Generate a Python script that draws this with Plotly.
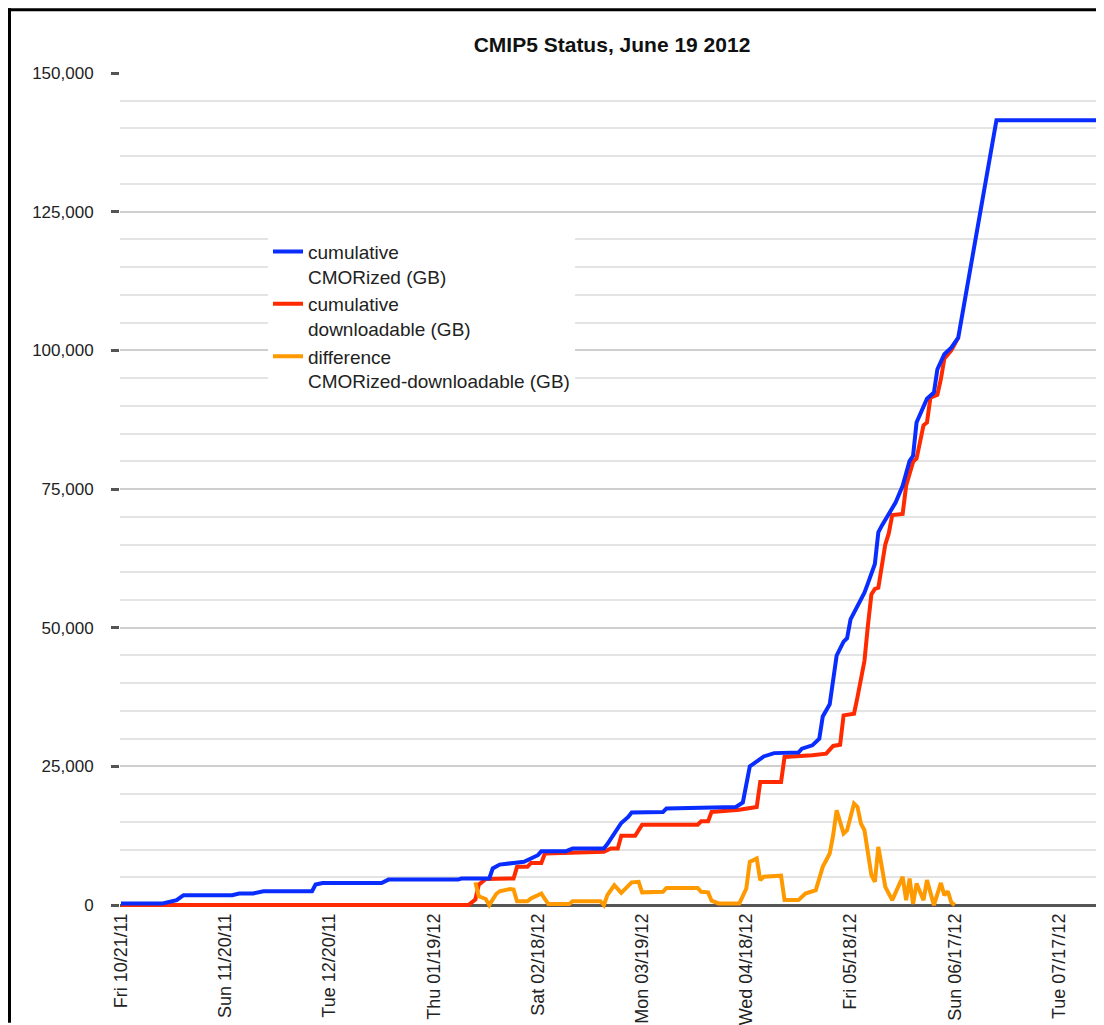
import plotly.graph_objects as go

# ---------------- data ----------------
cmorized_dates = [
    "2011-10-21", "2011-11-02", "2011-11-06", "2011-11-08", "2011-11-22", "2011-11-24",
    "2011-11-28", "2011-12-01", "2011-12-15", "2011-12-16", "2011-12-18", "2012-01-04",
    "2012-01-06", "2012-01-26", "2012-01-27", "2012-02-04", "2012-02-05", "2012-02-07",
    "2012-02-11", "2012-02-14", "2012-02-16", "2012-02-18", "2012-02-19", "2012-02-26",
    "2012-02-28", "2012-03-08", "2012-03-09", "2012-03-11", "2012-03-13", "2012-03-15",
    "2012-03-16", "2012-03-25", "2012-03-26", "2012-04-15", "2012-04-17", "2012-04-19",
    "2012-04-21", "2012-04-23", "2012-04-26", "2012-05-03", "2012-05-04", "2012-05-07",
    "2012-05-09", "2012-05-10", "2012-05-12", "2012-05-13", "2012-05-14", "2012-05-16",
    "2012-05-17", "2012-05-18", "2012-05-20", "2012-05-22", "2012-05-23", "2012-05-25",
    "2012-05-26", "2012-05-27", "2012-05-31", "2012-06-02", "2012-06-04", "2012-06-05",
    "2012-06-06", "2012-06-09", "2012-06-11", "2012-06-12", "2012-06-14", "2012-06-16",
    "2012-06-18", "2012-06-29", "2012-07-29",
]
cmorized_gb = [
    300, 300, 900, 1800, 1800, 2100,
    2100, 2500, 2500, 3700, 4000, 4000,
    4600, 4600, 4800, 4800, 6600, 7300,
    7600, 7800, 8400, 9000, 9700, 9700,
    10200, 10200, 11000, 13000, 14800, 15900,
    16700, 16800, 17400, 17700, 18500, 25000,
    25800, 26800, 27400, 27500, 28200, 28800,
    30000, 34000, 36200, 41000, 45000, 47500,
    48100, 51500, 53800, 56300, 58000, 61500,
    67200, 68400, 72600, 75600, 80100, 81000,
    87000, 91300, 92400, 96600, 99300, 100500,
    102300, 141500, 141500,
]

downloadable_dates = [
    "2011-10-21", "2012-01-29", "2012-01-31", "2012-02-01", "2012-02-03", "2012-02-11",
    "2012-02-12", "2012-02-15", "2012-02-16", "2012-02-19", "2012-02-20", "2012-03-08",
    "2012-03-10", "2012-03-12", "2012-03-13", "2012-03-17", "2012-03-19", "2012-04-04",
    "2012-04-05", "2012-04-07", "2012-04-08", "2012-04-16", "2012-04-21", "2012-04-22",
    "2012-04-28", "2012-04-29", "2012-05-07", "2012-05-11", "2012-05-13", "2012-05-15",
    "2012-05-16", "2012-05-19", "2012-05-20", "2012-05-22", "2012-05-23", "2012-05-24",
    "2012-05-25", "2012-05-26", "2012-05-28", "2012-05-29", "2012-05-30", "2012-06-02",
    "2012-06-03", "2012-06-05", "2012-06-06", "2012-06-08", "2012-06-09", "2012-06-10",
    "2012-06-12", "2012-06-13", "2012-06-14", "2012-06-16", "2012-06-18",
]
downloadable_gb = [
    0, 0, 1000, 3700, 4700, 4800,
    6900, 6900, 7600, 7600, 9300, 9600,
    10200, 10200, 12500, 12500, 14500, 14500,
    15100, 15100, 16800, 17200, 17700, 22200,
    22200, 26700, 27000, 27300, 28700, 28900,
    34200, 34500, 37500, 44000, 50400, 56000,
    57000, 57200, 65000, 67000, 70300, 70500,
    75600, 79900, 80500, 86500, 87000, 91500,
    92000, 94800, 98500, 100000, 102300,
]

difference_dates = [
    "2012-01-31", "2012-02-01", "2012-02-03", "2012-02-04", "2012-02-06", "2012-02-07",
    "2012-02-10", "2012-02-11", "2012-02-12", "2012-02-15", "2012-02-16", "2012-02-19",
    "2012-02-20", "2012-02-21", "2012-02-27", "2012-02-28", "2012-03-07", "2012-03-08",
    "2012-03-09", "2012-03-11", "2012-03-13", "2012-03-15", "2012-03-16", "2012-03-18",
    "2012-03-19", "2012-03-25", "2012-03-26", "2012-04-04", "2012-04-05", "2012-04-07",
    "2012-04-08", "2012-04-10", "2012-04-16", "2012-04-18", "2012-04-19", "2012-04-21",
    "2012-04-22", "2012-04-23", "2012-04-28", "2012-04-29", "2012-05-03", "2012-05-05",
    "2012-05-08", "2012-05-10", "2012-05-12", "2012-05-13", "2012-05-14", "2012-05-16",
    "2012-05-17", "2012-05-19", "2012-05-20", "2012-05-21", "2012-05-22", "2012-05-24",
    "2012-05-25", "2012-05-26", "2012-05-28", "2012-05-30", "2012-06-02", "2012-06-03",
    "2012-06-04", "2012-06-05", "2012-06-06", "2012-06-08", "2012-06-09", "2012-06-11",
    "2012-06-13", "2012-06-14", "2012-06-15", "2012-06-16", "2012-06-17",
]
difference_gb = [
    4100, 1600, 1100, 0, 2000, 2500,
    2900, 2800, 700, 700, 1200, 2100,
    1100, 200, 200, 700, 700, 0,
    1800, 3600, 2200, 3500, 4100, 4200,
    2300, 2400, 3100, 3100, 2400, 2300,
    800, 300, 300, 3000, 7800, 8400,
    4500, 5100, 5300, 900, 900, 2100,
    2700, 6900, 9300, 12600, 17100, 12900,
    13500, 18300, 17700, 14700, 13500, 5400,
    4200, 10500, 3300, 900, 5100, 900,
    4800, 200, 3900, 900, 4500, 0,
    4000, 1800, 2500, 500, 0,
]

tick_dates = [
    "2011-10-21", "2011-11-20", "2011-12-20", "2012-01-19", "2012-02-18",
    "2012-03-19", "2012-04-18", "2012-05-18", "2012-06-17", "2012-07-17",
]
tick_labels = [
    "Fri 10/21/11", "Sun 11/20/11", "Tue 12/20/11", "Thu 01/19/12", "Sat 02/18/12",
    "Mon 03/19/12", "Wed 04/18/12", "Fri 05/18/12", "Sun 06/17/12", "Tue 07/17/12",
]

series_names = [
    "cumulative<br>CMORized (GB)",
    "cumulative<br>downloadable (GB)",
    "difference<br>CMORized-downloadable (GB)",
]
series_colors = ["#0a2dff", "#ff2a00", "#ff9900"]

FONT = "Liberation Sans, Arial, Helvetica, sans-serif"

# ---------------- figure ----------------
fig = go.Figure()
fig.add_trace(go.Scatter(
    x=downloadable_dates, y=downloadable_gb, mode="lines", name=series_names[1],
    line=dict(color=series_colors[1], width=4), legendrank=2,
))
fig.add_trace(go.Scatter(
    x=cmorized_dates, y=cmorized_gb, mode="lines", name=series_names[0],
    line=dict(color=series_colors[0], width=4), legendrank=1,
))
fig.add_trace(go.Scatter(
    x=difference_dates, y=difference_gb, mode="lines", name=series_names[2],
    line=dict(color=series_colors[2], width=4), legendrank=3,
))

# the page body adds an 8px margin, so the figure is 8px smaller and
# every layout position below is given in figure pixels (page - 8)
W, H = 1096, 1017
L, R, T, B = 112, 0, 65, 114
pw, ph = W - L - R, H - T - B


def px_x(px):
    return (px - L) / pw


def px_y(py):
    return (H - B - py) / ph


fig.update_layout(
    width=W, height=H,
    margin=dict(l=L, r=R, t=T, b=B),
    paper_bgcolor="white", plot_bgcolor="white",
    font=dict(family=FONT, color="#222222"),
    title=dict(
        text="<b>CMIP5 Status, June 19 2012</b>",
        x=0.5, xref="paper", y=1 - 37 / H, yanchor="middle",
        font=dict(size=21, color="#111111", family=FONT),
    ),
    showlegend=True,
    legend=dict(
        x=px_x(260), y=px_y(225), xanchor="left", yanchor="top",
        bgcolor="white", borderwidth=0, valign="top",
        font=dict(size=19, color="#222222", family=FONT),
        tracegroupgap=0,
    ),
    xaxis=dict(
        type="date",
        range=["2011-10-20 17:05", "2012-07-29 23:00"],
        tickmode="array", tickvals=tick_dates, ticktext=tick_labels,
        tickangle=-90, tickfont=dict(size=18, color="#222222"),
        showgrid=False, zeroline=False, showline=False, ticks="",
    ),
    yaxis=dict(
        range=[-700, 150000],
        tick0=0, dtick=25000, tickformat=",d",
        tickfont=dict(size=17, color="#222222"),
        ticks="outside", ticklen=8, tickwidth=2.5, tickcolor="#555555",
        ticklabelstandoff=14,
        showgrid=True, gridcolor="#cfcfcf", gridwidth=1.5,
        zeroline=True, zerolinecolor="#555555", zerolinewidth=2.5,
        showline=False,
        minor=dict(dtick=5000, showgrid=True, gridcolor="#e4e4e4", gridwidth=1.5, ticks=""),
    ),
    shapes=[
        # white panel behind the legend that hides the gridlines there
        dict(type="rect", xref="paper", yref="paper", layer="between",
             x0=px_x(250), x1=px_x(600), y0=px_y(380), y1=px_y(214),
             fillcolor="white", line=dict(width=0)),
        # black frame at top and left of the picture
        dict(type="line", xref="paper", yref="paper",
             x0=px_x(0), x1=px_x(W), y0=px_y(1.5), y1=px_y(1.5),
             line=dict(color="black", width=3)),
        dict(type="line", xref="paper", yref="paper",
             x0=px_x(1.5), x1=px_x(1.5), y0=px_y(0), y1=px_y(H),
             line=dict(color="black", width=3)),
    ],
)

fig.write_html("out.html")
